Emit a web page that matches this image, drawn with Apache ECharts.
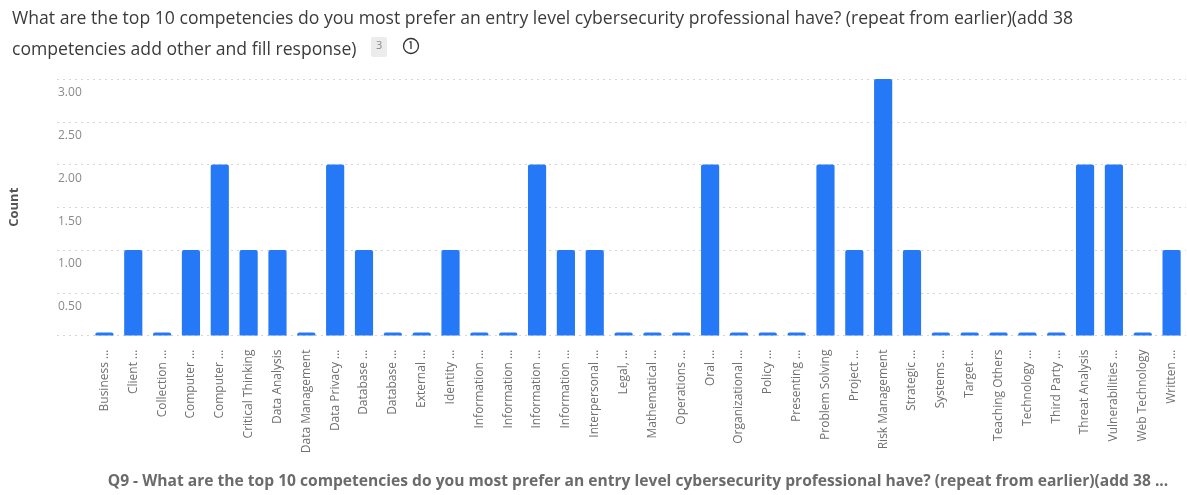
<!DOCTYPE html>
<html>
<head>
<meta charset="utf-8">
<script src="https://cdn.jsdelivr.net/npm/echarts@6/dist/echarts.min.js"></script>
<style>
  html, body { margin: 0; padding: 0; background: #fff; }
  #chart { width: 1187px; height: 495px; }
</style>
</head>
<body>
<div id="chart"></div>
<script>
// Competency names as shown on the category axis (long names are truncated)
const categories = [
  'Business ...', 'Client ...', 'Collection ...', 'Computer ...', 'Computer ...',
  'Critical Thinking', 'Data Analysis', 'Data Management', 'Data Privacy ...', 'Database ...',
  'Database ...', 'External ...', 'Identity ...', 'Information ...', 'Information ...',
  'Information ...', 'Information ...', 'Interpersonal ...', 'Legal, ...', 'Mathematical ...',
  'Operations ...', 'Oral ...', 'Organizational ...', 'Policy ...', 'Presenting ...',
  'Problem Solving', 'Project ...', 'Risk Management', 'Strategic ...', 'Systems ...',
  'Target ...', 'Teaching Others', 'Technology ...', 'Third Party ...', 'Threat Analysis',
  'Vulnerabilities ...', 'Web Technology', 'Written ...'
];

// Number of responses per competency
const counts = [
  0, 1, 0, 1, 2,
  1, 1, 0, 2, 1,
  0, 0, 1, 0, 0,
  2, 1, 1, 0, 0,
  0, 2, 0, 0, 0,
  2, 1, 3, 1, 0,
  0, 0, 0, 0, 2,
  2, 0, 1
];

const yMin = 0, yMax = 3, yStep = 0.5;

const titleLines = [
  'What are the top 10 competencies do you most prefer an entry level cybersecurity professional have? (repeat from earlier)(add 38',
  'competencies add other and fill response)'
];
const responseCount = '3';
const axisCaption = 'Q9 - What are the top 10 competencies do you most prefer an entry level cybersecurity professional have? (repeat from earlier)(add 38 ...';

const chart = echarts.init(document.getElementById('chart'), null, { renderer: 'canvas' });

const TOP = 79, BOTTOM = 159.5;
const BLUE = '#2579f6';

chart.setOption({
  animation: false,
  backgroundColor: '#ffffff',
  title: {
    text: titleLines.join('\n'),
    left: 7, top: -2,
    textStyle: { fontFamily: 'Open Sans', fontSize: 17.6, fontWeight: 'normal', color: '#3b3b3b', lineHeight: 31 }
  },
  grid: [
    // grid for the gridlines and value labels (extends under the labels)
    { left: 57, right: 1, top: TOP, bottom: BOTTOM },
    // grid for the bars
    { left: 90, right: 1, top: TOP, bottom: BOTTOM }
  ],
  xAxis: [
    { gridIndex: 0, type: 'value', show: false, min: 0, max: 1 },
    {
      gridIndex: 1, type: 'category', data: categories,
      axisLine: { show: false }, axisTick: { show: false },
      axisLabel: {
        interval: 0, rotate: 90, margin: 14,
        color: '#707070', fontSize: 12, fontFamily: 'Open Sans'
      }
    }
  ],
  yAxis: [
    {
      gridIndex: 0, type: 'value', min: yMin, max: yMax, interval: yStep,
      name: 'Count', nameLocation: 'middle', nameGap: 36, nameRotate: 90,
      nameTextStyle: { fontFamily: 'Open Sans', fontWeight: 'bold', fontSize: 13, color: '#555' },
      axisLine: { show: false }, axisTick: { show: false },
      splitLine: { show: true, lineStyle: { color: '#d6d6d6', type: [2, 4], width: 1 } },
      axisLabel: {
        inside: true, margin: 1, showMinLabel: false,
        verticalAlign: 'top', padding: [8, 0, 0, 0],
        color: '#8a8a8a', fontSize: 12, fontFamily: 'Open Sans',
        formatter: v => v.toFixed(2)
      }
    },
    {
      gridIndex: 1, type: 'value', min: yMin, max: yMax, interval: yStep,
      show: false, splitLine: { show: false }
    }
  ],
  series: [{
    type: 'bar',
    xAxisIndex: 1, yAxisIndex: 1,
    data: counts,
    barCategoryGap: '37%',
    barMinHeight: 3,
    itemStyle: { color: BLUE, borderRadius: [2, 2, 0, 0] }
  }],
  graphic: [
    // response-count badge
    { type: 'rect', left: 371, top: 37, shape: { width: 16, height: 20, r: 2 }, style: { fill: '#ececec' } },
    { type: 'text', left: 376, top: 40, style: { text: responseCount, fontSize: 11, fontFamily: 'Open Sans', fill: '#888' } },
    // info icon
    { type: 'circle', shape: { cx: 411, cy: 46, r: 7.5 }, style: { fill: 'none', stroke: '#333', lineWidth: 1.3 } },
    { type: 'polyline', shape: { points: [[409.5, 42], [411, 42], [411, 49]] }, style: { fill: 'none', stroke: '#333', lineWidth: 1.3 } },
    // axis caption
    {
      type: 'text', x: 638, y: 474,
      style: {
        text: axisCaption, align: 'center',
        fontFamily: 'Open Sans', fontWeight: 'bold', fontSize: 15.6, fill: '#6b6b6b'
      }
    }
  ]
});
</script>
</body>
</html>
